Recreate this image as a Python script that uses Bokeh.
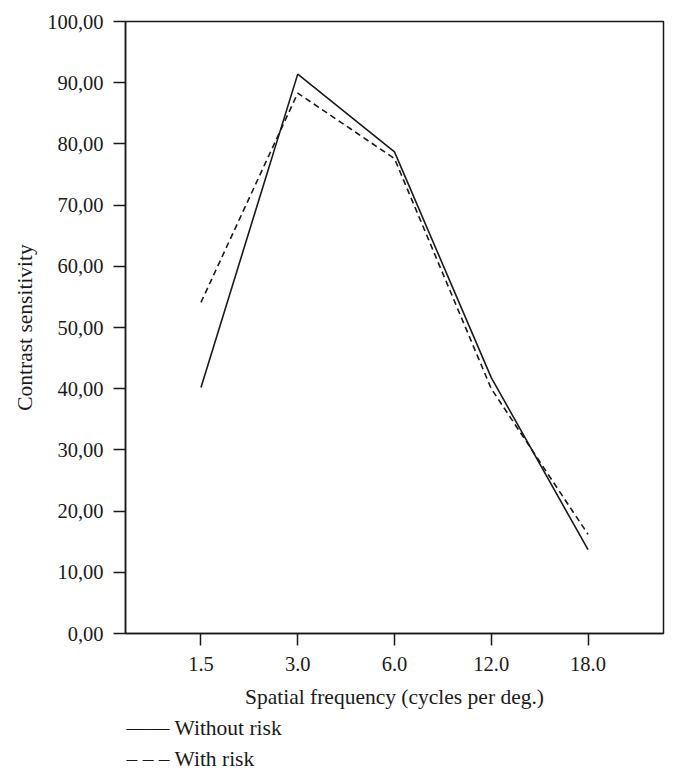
from bokeh.plotting import figure
from bokeh.models import FactorRange, Range1d, FixedTicker, Title, ColumnDataSource
from bokeh.embed import file_html
from bokeh.resources import INLINE

# ---- data ----
frequencies = ["1.5", "3.0", "6.0", "12.0", "18.0"]
without_risk = [40.2, 91.4, 78.7, 41.8, 13.7]
with_risk = [54.1, 88.3, 77.6, 40.0, 16.2]
y_ticks = [0, 10, 20, 30, 40, 50, 60, 70, 80, 90, 100]
x_title = "Spatial frequency (cycles per deg.)"
y_title = "Contrast sensitivity"
series_names = ["Without risk", "With risk"]
legend_keys = ["\u2014\u2014", "\u2013 \u2013 \u2013"]

FONT = "Liberation Serif"
INK = "#1a1a1a"
DASH = "6 4"

src = ColumnDataSource(dict(freq=frequencies, without=without_risk, withr=with_risk))

p = figure(
    frame_width=538, frame_height=612,
    x_range=FactorRange(factors=frequencies, range_padding=0.28, range_padding_units="absolute"),
    y_range=Range1d(0, 100),
    output_backend="svg", toolbar_location=None,
    min_border_left=125, min_border_right=8, min_border_top=21, min_border_bottom=0,
)

p.xgrid.visible = False
p.ygrid.visible = False
p.outline_line_color = INK
p.outline_line_width = 1.5
p.outline_line_alpha = 1.0

p.line("freq", "without", source=src, line_color=INK, line_width=1.6)
p.line("freq", "withr", source=src, line_color=INK, line_width=1.6, line_dash=DASH)

p.yaxis.ticker = FixedTicker(ticks=y_ticks)
p.yaxis.major_label_overrides = {t: f"{t:.2f}".replace(".", ",") for t in y_ticks}
p.yaxis.minor_tick_line_color = None
p.xaxis.minor_tick_line_color = None

for ax in (p.xaxis[0], p.yaxis[0]):
    ax.axis_line_color = INK
    ax.axis_line_width = 1.5
    ax.major_tick_line_color = INK
    ax.major_tick_line_width = 1.5
    ax.major_tick_out = 12
    ax.major_tick_in = 0
    ax.major_label_text_font = FONT
    ax.major_label_text_font_size = "20.5px"
    ax.major_label_text_color = INK
    ax.axis_label_text_font = FONT
    ax.axis_label_text_font_size = "21.5px"
    ax.axis_label_text_font_style = "normal"
    ax.axis_label_text_color = INK

p.xaxis.axis_label = x_title
p.yaxis.axis_label = y_title
p.xaxis.major_label_standoff = 11
p.yaxis.major_label_standoff = 10
p.xaxis.axis_label_standoff = 11
p.yaxis.axis_label_standoff = 7

# legend rows stacked beneath the x axis
for key, name in zip(legend_keys, series_names):
    p.add_layout(Title(text=f"{key} {name}", align="left", offset=1, standoff=5,
                       text_font=FONT, text_font_size="21.5px",
                       text_font_style="normal", text_color=INK), "below")

open("out.html", "w").write(file_html(p, INLINE))
